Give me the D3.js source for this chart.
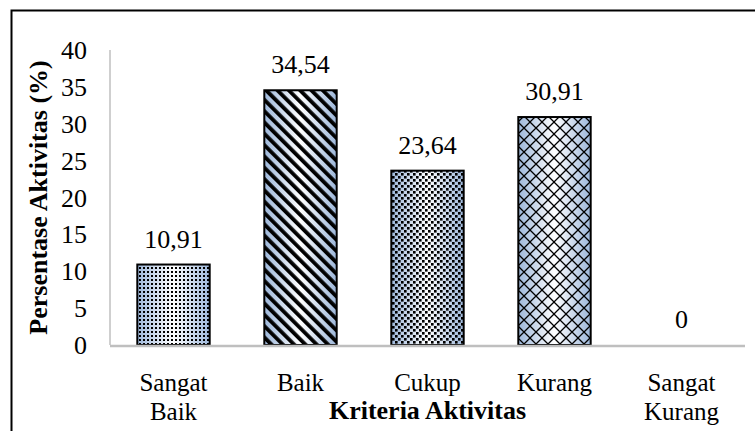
<!DOCTYPE html>
<html>
<head>
<meta charset="utf-8">
<script src="https://cdn.jsdelivr.net/npm/d3@7"></script>
<style>
  body { margin: 0; background: #fff; }
  svg text { font-family: "Liberation Serif", "Times New Roman", "DejaVu Serif", serif; fill: #000; }
</style>
</head>
<body>
<div id="chart"></div>
<script>
// data
var categories = ["Sangat Baik", "Baik", "Cukup", "Kurang", "Sangat Kurang"];
var values = [10.91, 34.54, 23.64, 30.91, 0];
var yTicks = [0, 5, 10, 15, 20, 25, 30, 35, 40];
var fills = ["dots", "stripes", "checker", "lattice", "dots"];

var W = 755, H = 431;
var margin = {top: 50, right: 10, bottom: 86, left: 110};
var fs = "26px";

var svg = d3.select("#chart").append("svg")
    .attr("width", W)
    .attr("height", H);

// outer frame (runs off the right and bottom of the crop)
svg.append("rect")
    .attr("x", 11.5).attr("y", 10.5)
    .attr("width", 800).attr("height", 500)
    .attr("fill", "none")
    .attr("stroke", "#000")
    .attr("stroke-width", 2);

var defs = svg.append("defs");

// light blue -> white -> light blue
var grad = defs.append("linearGradient").attr("id", "barGrad")
    .attr("x1", "0%").attr("x2", "100%").attr("y1", "0%").attr("y2", "0%");
grad.append("stop").attr("offset", "0%").attr("stop-color", "#9db7da");
grad.append("stop").attr("offset", "50%").attr("stop-color", "#ffffff");
grad.append("stop").attr("offset", "100%").attr("stop-color", "#9db7da");

// fine dots
var p1 = defs.append("pattern").attr("id", "dots")
    .attr("patternUnits", "userSpaceOnUse").attr("width", 4).attr("height", 4);
p1.append("rect").attr("x", 1).attr("y", 1).attr("width", 2).attr("height", 2).attr("fill", "#000");

// wide diagonal stripes
var p2 = defs.append("pattern").attr("id", "stripes")
    .attr("patternUnits", "userSpaceOnUse").attr("width", 8).attr("height", 8)
    .attr("patternTransform", "rotate(-45)");
p2.append("rect").attr("x", 0).attr("y", 0).attr("width", 3.8).attr("height", 8).attr("fill", "#000");

// staggered squares
var p3 = defs.append("pattern").attr("id", "checker")
    .attr("patternUnits", "userSpaceOnUse").attr("width", 6).attr("height", 6);
p3.append("rect").attr("x", 0).attr("y", 0).attr("width", 2.6).attr("height", 2.6).attr("fill", "#000");
p3.append("rect").attr("x", 3).attr("y", 3).attr("width", 2.6).attr("height", 2.6).attr("fill", "#000");

// diamond lattice
var p4 = defs.append("pattern").attr("id", "lattice")
    .attr("patternUnits", "userSpaceOnUse").attr("width", 12).attr("height", 12);
p4.append("path").attr("d", "M0,0L12,12M12,0L0,12")
    .attr("stroke", "#000").attr("stroke-width", 1.3).attr("fill", "none");

var g = svg.append("g")
    .attr("transform", "translate(" + margin.left + "," + margin.top + ")");

var x = d3.scaleBand()
    .domain(categories)
    .range([0, 635])
    .paddingInner(0.43)
    .paddingOuter(0.215);

var y = d3.scaleLinear()
    .domain([0, 40])
    .range([295, 0]);

var fmt = d3.formatLocale({decimal: ",", thousands: ".", grouping: [3], currency: ["", ""]}).format(".2f");

// y axis line
g.append("line")
    .attr("x1", 0).attr("x2", 0).attr("y1", y(40)).attr("y2", y(0))
    .attr("stroke", "#bfbfbf").attr("stroke-width", 1.5);

// y tick labels
g.selectAll(".ytick").data(yTicks).enter().append("text")
    .attr("class", "ytick")
    .attr("x", -23)
    .attr("y", function (d) { return y(d); })
    .attr("dy", "0.35em")
    .attr("text-anchor", "end")
    .style("font-size", fs)
    .text(function (d) { return d; });

// bars: gradient underneath, pattern on top, black outline
var bars = g.selectAll(".bar").data(values).enter().append("g").attr("class", "bar");

bars.filter(function (d) { return d > 0; }).append("rect")
    .attr("x", function (d, i) { return x(categories[i]); })
    .attr("y", function (d) { return y(d); })
    .attr("width", x.bandwidth())
    .attr("height", function (d) { return y(0) - y(d); })
    .attr("fill", "url(#barGrad)");

bars.filter(function (d) { return d > 0; }).append("rect")
    .attr("x", function (d, i) { return x(categories[i]); })
    .attr("y", function (d) { return y(d); })
    .attr("width", x.bandwidth())
    .attr("height", function (d) { return y(0) - y(d); })
    .attr("fill", function (d, i) { return "url(#" + fills[i] + ")"; })
    .attr("stroke", "#000")
    .attr("stroke-width", 2);

// x axis line
g.append("line")
    .attr("x1", 0).attr("x2", 635).attr("y1", y(0) + 1).attr("y2", y(0) + 1)
    .attr("stroke", "#bfbfbf").attr("stroke-width", 2.5);

// value labels
g.selectAll(".val").data(values).enter().append("text")
    .attr("class", "val")
    .attr("x", function (d, i) { return x(categories[i]) + x.bandwidth() / 2; })
    .attr("y", function (d) { return y(d) - 17; })
    .attr("text-anchor", "middle")
    .style("font-size", fs)
    .text(function (d) { return d === 0 ? "0" : fmt(d); });

// category labels, one text per word line
categories.forEach(function (c) {
  c.split(" ").forEach(function (w, k) {
    g.append("text")
      .attr("class", "cat")
      .attr("x", x(c) + x.bandwidth() / 2)
      .attr("y", y(0) + 46 + k * 29)
      .attr("text-anchor", "middle")
      .style("font-size", "25px")
      .text(w);
  });
});

// axis titles
g.append("text")
    .attr("x", 635 / 2)
    .attr("y", y(0) + 74)
    .attr("text-anchor", "middle")
    .style("font-size", fs)
    .style("font-weight", "bold")
    .text("Kriteria Aktivitas");

g.append("text")
    .attr("transform", "translate(-63," + y(20) + ") rotate(-90)")
    .attr("text-anchor", "middle")
    .style("font-size", fs)
    .style("font-weight", "bold")
    .text("Persentase Aktivitas (%)");
</script>
</body>
</html>
